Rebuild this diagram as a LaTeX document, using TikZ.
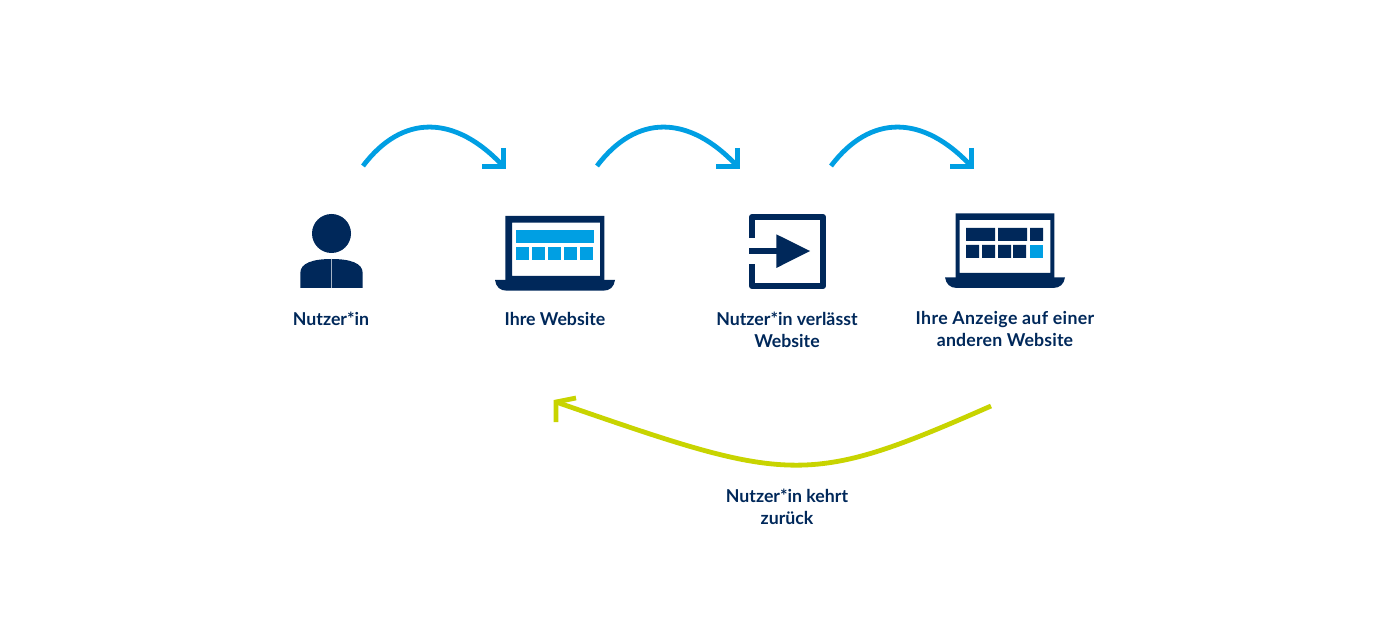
\documentclass[tikz,border=0pt]{standalone}
\usepackage{fontspec}
\setmainfont{Lato}
\definecolor{navy}{HTML}{00285A}
\definecolor{sky}{HTML}{009FE3}
\definecolor{lime}{HTML}{C8D400}
\tikzset{
  lbl/.style={text=navy,font=\fontsize{13.3pt}{16.5pt}\selectfont\bfseries,align=center,anchor=base,inner sep=0pt},
  bluearc/.style={draw=sky,line width=3.6pt,line cap=butt},
  bluehead/.style={draw=sky,line width=3.6pt,miter limit=10,line join=miter},
  greenarc/.style={draw=lime,line width=3.6pt},
  greenhead/.style={draw=lime,line width=3.6pt,line join=miter,miter limit=10},
  nv/.style={fill=navy},
  sk/.style={fill=sky}
}
\begin{document}
\begin{tikzpicture}[x=0.75pt,y=-0.75pt]
\useasboundingbox (0,0) rectangle (1400,627);
% person
\fill[nv] (331.5,233.5) circle (19.5);
\fill[nv] (300.3,288) -- (300.3,273) .. controls (300.3,263) and (313,259) .. (331.5,259) .. controls (350,259) and (362.7,263) .. (362.7,273) -- (362.7,288) -- cycle;
\draw[white!65!navy,line width=0.4pt] (331.5,259) -- (331.5,288);
% laptop 1
\fill[nv,even odd rule] (505.3,216) rectangle (604.3,281) (512,222.7) rectangle (600,276);
\fill[nv] (495,280) -- (615,280) .. controls (614,287) and (610,290.7) .. (603,290.7) -- (507,290.7) .. controls (500,290.7) and (496,287) .. (495,280) -- cycle;
\fill[sk] (516,230) rectangle (594,243);
\foreach \x in {516,532,548,564,580} \fill[sk] (\x,247) rectangle ++(13,13);
% exit icon
\draw[navy,line width=4.5pt,line join=round] (752,237.7) -- (752,217) -- (823,217) -- (823,286) -- (752,286) -- (752,264);
\fill[nv] (749,248) rectangle (777,254);
\fill[nv] (776.3,234.3) -- (810,251) -- (776.3,268) -- cycle;
% laptop 2
\fill[nv,even odd rule] (955.7,213.3) rectangle (1054.3,278) (959.7,220) rectangle (1050.3,273);
\fill[nv] (945,277.3) -- (1065,277.3) .. controls (1064,284) and (1060,288) .. (1053,288) -- (957,288) .. controls (950,288) and (946,284) .. (945,277.3) -- cycle;
\fill[nv] (966,228) rectangle (995,241) (998,228) rectangle (1027,241) (1030,228) rectangle (1043,241);
\fill[nv] (966,245) rectangle (979,258) (982,245) rectangle (995,258) (998,245) rectangle (1011,258) (1013,245) rectangle (1026,258);
\fill[sk] (1030,245) rectangle (1043,258);
% labels
\node[lbl] (l1) at (331,326) {Nutzer*in};
\node[lbl] (l2) at (555,326) {Ihre Website};
\node[lbl] (l3a) at (787,326) {Nutzer*in verlässt};
\node[lbl] (l3b) at (787,348) {Website};
\node[lbl] (l4a) at (1005,325) {\addfontfeature{LetterSpace=2}Ihre Anzeige auf einer};
\node[lbl] (l4b) at (1005,347) {\addfontfeature{LetterSpace=1}anderen Website};
\node[lbl] (l5a) at (787,502) {Nutzer*in kehrt};
\node[lbl] (l5b) at (787,524) {zurück};
% blue arrows
\foreach \n/\d in {a/0,b/234,c/468}{
  \coordinate (\n s) at (363+\d,166);
  \coordinate (\n e) at (503.5+\d,166.5);
  \coordinate (\n u) at (503.5+\d,148);
  \coordinate (\n l) at (482+\d,166.5);
  \draw[bluearc] (\n s) .. controls (402+\d,114) and (455+\d,114) .. (\n e);
  \draw[bluehead] (\n u) -- (\n e) -- (\n l);
}
% green arrow
\coordinate (gs) at (991,406);
\coordinate (ge) at (556,402);
\coordinate (gu) at (576,398);
\coordinate (gd) at (556,422);
\draw[greenarc] (gs) .. controls (805,488) and (790,483) .. (ge);
\draw[greenhead] (gu) -- (ge) -- (gd);
\end{tikzpicture}
\end{document}
